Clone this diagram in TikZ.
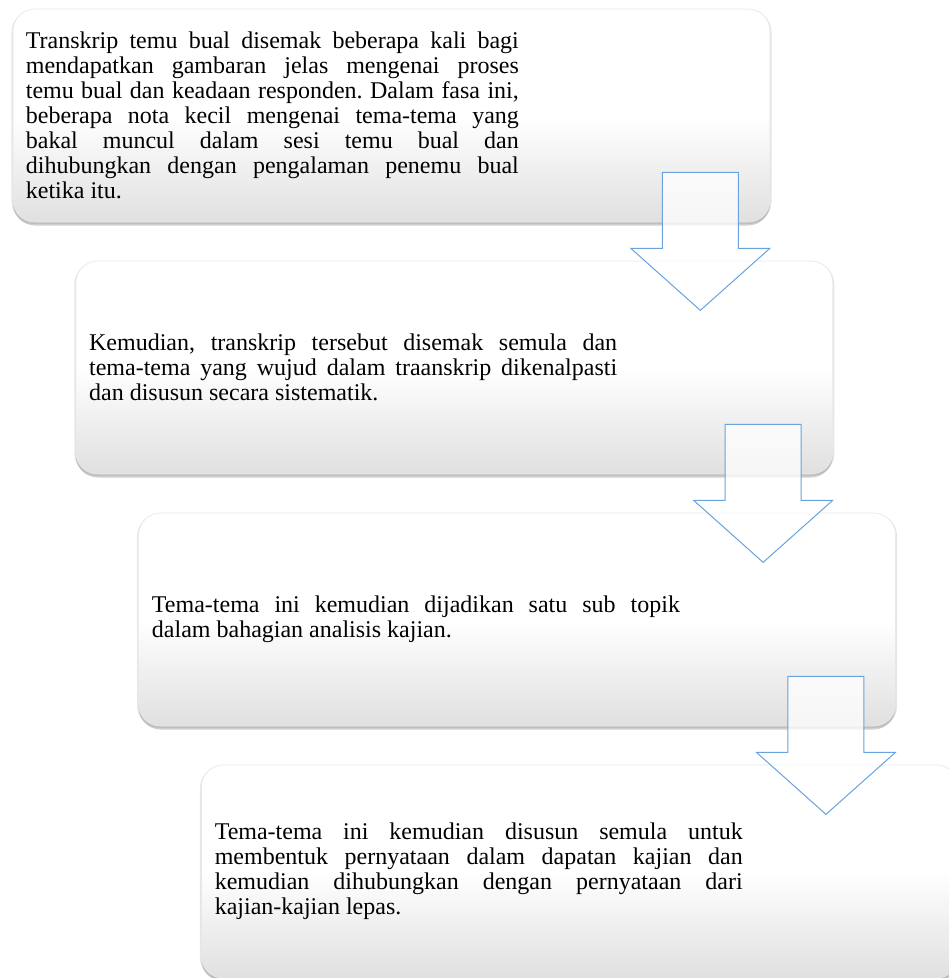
\documentclass[tikz,border=0pt]{standalone}
\usepackage{fontspec}
\setmainfont{Liberation Serif}
\usetikzlibrary{shadows}
\definecolor{arrowBlue}{RGB}{104,163,221}
\definecolor{boxGray}{RGB}{224,224,224}
\tolerance=9999
\hbadness=10000
\hyphenpenalty=10000
\exhyphenpenalty=10000
\frenchspacing

\def\boxWidth{757pt}
\def\boxHeight{213pt}
\def\shiftX{62.8}
\def\shiftY{252}
\def\textInset{13.5pt}

\tikzset{
  stagebox/.style={rounded corners=22pt, minimum width=\boxWidth, minimum height=\boxHeight, inner sep=0pt,
    draw=black!9, line width=0.7pt,
    top color=white, bottom color=boxGray, middle color=white,
    drop shadow={shadow xshift=0pt, shadow yshift=-3.5pt, opacity=0.38},
    drop shadow={shadow xshift=0pt, shadow yshift=-1.5pt, shadow scale=1.004, opacity=0.2}},
  stagetext/.style={anchor=west, inner sep=0pt, align=justify, font=\fontsize{24pt}{25pt}\selectfont},
  flowarrow/.style={draw=arrowBlue, line width=1pt, fill=white, fill opacity=0.75}
}

\begin{document}
\begin{tikzpicture}[x=1pt,y=1pt]
    \useasboundingbox (0,0) rectangle (949,-978);

    \foreach \i in {0,...,3} {
      \node[stagebox] (box\i) at (391.5+\i*\shiftX,-115.5-\i*\shiftY) {};
    }

    \node[stagetext, text width=493pt] (txt0) at ([xshift=13pt]box0.west) {Transkrip temu bual disemak beberapa kali bagi\linebreak
      mendapatkan gambaran jelas mengenai proses\linebreak
      temu bual dan keadaan responden. Dalam fasa ini,\linebreak
      beberapa nota kecil mengenai tema-tema yang\linebreak
      bakal muncul dalam sesi temu bual dan\linebreak
      dihubungkan dengan pengalaman penemu bual\linebreak
      ketika itu.};
    \node[stagetext, text width=528pt] (txt1) at ([xshift=\textInset]box1.west) {Kemudian, transkrip tersebut disemak semula dan\linebreak
      tema-tema yang wujud dalam traanskrip dikenalpasti\linebreak
      dan disusun secara sistematik.};
    \node[stagetext, text width=528pt] (txt2) at ([xshift=\textInset]box2.west) {Tema-tema ini kemudian dijadikan satu sub topik\linebreak
      dalam bahagian analisis kajian.};
    \node[stagetext, text width=528pt] (txt3) at ([xshift=\textInset]box3.west) {Tema-tema ini kemudian disusun semula untuk\linebreak
      membentuk pernyataan dalam dapatan kajian dan\linebreak
      kemudian dihubungkan dengan pernyataan dari\linebreak
      kajian-kajian lepas.};

    \foreach \i in {0,1,2} {
      \coordinate (shaft\i) at ([xshift=-70pt,yshift=50pt]box\i.south east);
      \draw[flowarrow] ([xshift=-38pt]shaft\i) -- ++(76,0) -- ++(0,-76) -- ++(31.5,0)
        -- ([yshift=-138pt]shaft\i) -- ++(-69.5,62) -- ++(31.5,0) -- cycle;
    }
  \end{tikzpicture}
\end{document}
